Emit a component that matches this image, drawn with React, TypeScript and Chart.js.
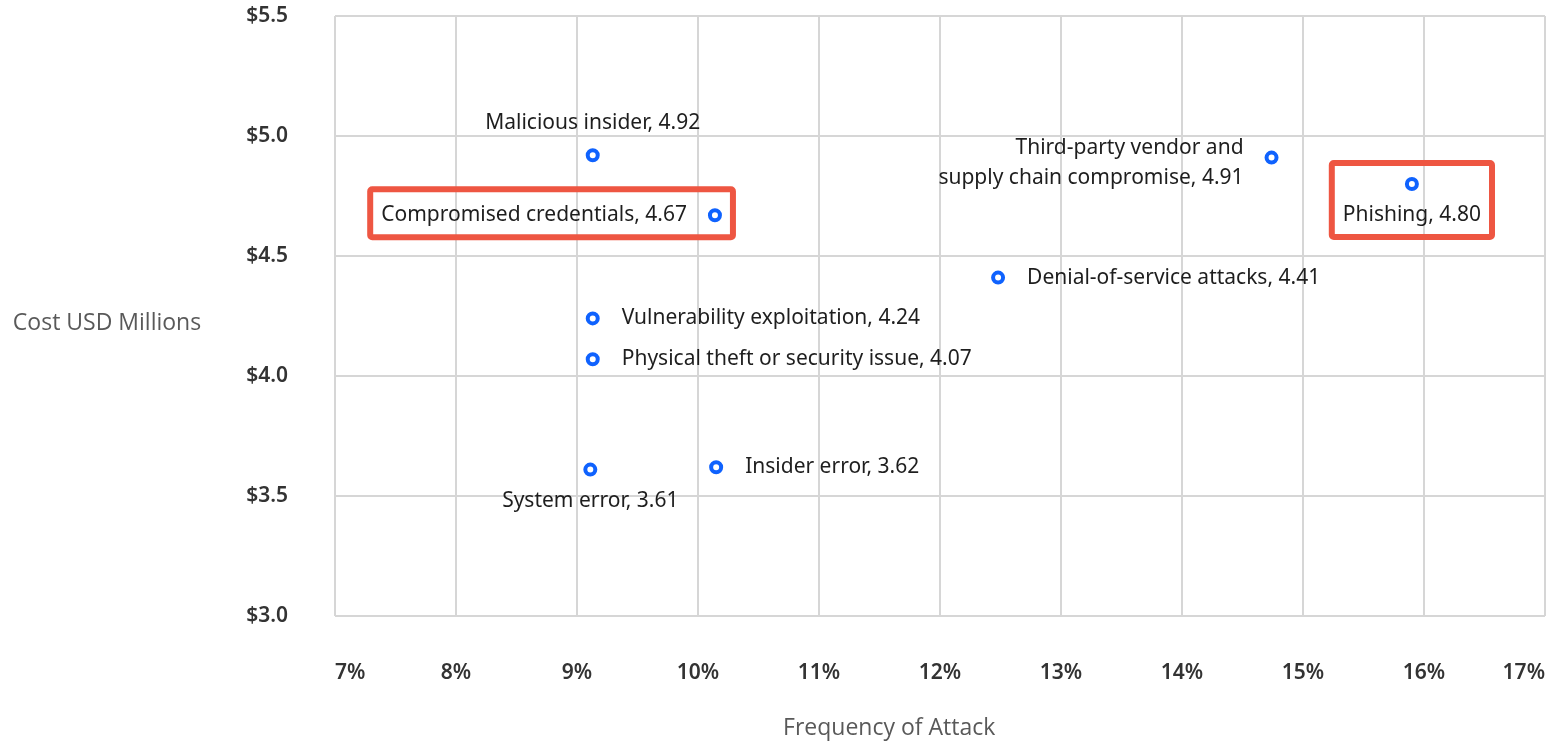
import React, { useEffect, useRef } from "react";
import { Chart, registerables } from "chart.js";

Chart.register(...registerables);

// Attack vectors: frequency (% of breaches) vs. average cost (USD millions)
const attackTypes = [
  "Malicious insider",
  "Compromised credentials",
  "Third-party vendor and\nsupply chain compromise",
  "Phishing",
  "Denial-of-service attacks",
  "Vulnerability exploitation",
  "Physical theft or security issue",
  "System error",
  "Insider error",
];
const frequencyPct = [9.13, 10.14, 14.74, 15.9, 12.48, 9.13, 9.13, 9.11, 10.15];
const costMillions = [4.92, 4.67, 4.91, 4.8, 4.41, 4.24, 4.07, 3.61, 3.62];

const xTickValues = [7, 8, 9, 10, 11, 12, 13, 14, 15, 16, 17];
const yTickValues = [3.0, 3.5, 4.0, 4.5, 5.0, 5.5];

const highlighted = ["Compromised credentials", "Phishing"];

const xTitle = "Frequency of Attack";
const yTitle = "Cost USD Millions";

// where each point's label sits relative to its marker
const labelPlacement = ["above", "left", "left", "below", "right", "right", "right", "below", "right"];

const BLUE = "#0f62fe";
const GRID = "#d6d6d6";
const RED = "#ee5642";
const LABEL_FONT = "21px 'Noto Sans'";
const TITLE_FONT = "23px 'Open Sans'";

// keep edge tick labels from pushing the plot area inwards
const noEdgePadding = (scale: any) => {
  scale.paddingTop = 0;
  scale.paddingBottom = 0;
  scale.paddingLeft = 0;
  scale.paddingRight = 0;
};

const pointLabels = {
  id: "pointLabels",
  afterDatasetsDraw(chart: any) {
    const ctx = chart.ctx as CanvasRenderingContext2D;
    const meta = chart.getDatasetMeta(0);
    ctx.save();
    ctx.font = LABEL_FONT;
    ctx.fillStyle = "#1e1e1e";
    ctx.textBaseline = "middle";
    const lineH = 30;
    meta.data.forEach((el: any, i: number) => {
      const { x, y } = el.getProps(["x", "y"], true);
      const lines = `${attackTypes[i]}, ${costMillions[i].toFixed(2)}`.split("\n");
      const place = labelPlacement[i];
      let tx = x;
      let cy = y;
      if (place === "left") {
        ctx.textAlign = "right";
        tx = x - 28;
      } else if (place === "right") {
        ctx.textAlign = "left";
        tx = x + 29;
      } else {
        ctx.textAlign = "center";
        cy = place === "above" ? y - 32 : y + 31;
      }
      if (lines.length > 1) cy += 5;
      let minX = Infinity, maxX = -Infinity, minY = Infinity, maxY = -Infinity;
      lines.forEach((line, k) => {
        const ly = cy + lineH * (k - (lines.length - 1) / 2);
        ctx.fillText(line, tx, ly);
        const w = ctx.measureText(line).width;
        const left = ctx.textAlign === "right" ? tx - w : ctx.textAlign === "left" ? tx : tx - w / 2;
        minX = Math.min(minX, left);
        maxX = Math.max(maxX, left + w);
        minY = Math.min(minY, ly - 12);
        maxY = Math.max(maxY, ly + 12);
      });
      if (highlighted.includes(attackTypes[i])) {
        minX = Math.min(minX, x - 7);
        maxX = Math.max(maxX, x + 7);
        minY = Math.min(minY, y - 7);
        maxY = Math.max(maxY, y + 7);
        ctx.save();
        ctx.strokeStyle = RED;
        ctx.lineWidth = 6;
        ctx.beginPath();
        ctx.roundRect(minX - 11, minY - 14, maxX - minX + 22, maxY - minY + 24, 2);
        ctx.stroke();
        ctx.restore();
      }
    });
    ctx.restore();
  },
};

const axisTitles = {
  id: "axisTitles",
  afterDraw(chart: any) {
    const ctx = chart.ctx as CanvasRenderingContext2D;
    const area = chart.chartArea;
    ctx.save();
    ctx.font = TITLE_FONT;
    ctx.fillStyle = "#595959";
    ctx.textAlign = "center";
    ctx.textBaseline = "middle";
    ctx.fillText(yTitle, area.left - 228, (area.top + area.bottom) / 2 + 7);
    ctx.fillText(xTitle, area.left + (area.right - area.left) * 0.458, chart.height - 16);
    ctx.restore();
  },
};

export default function App() {
  const canvasRef = useRef<HTMLCanvasElement>(null);

  useEffect(() => {
    if (!canvasRef.current) return;
    const chart = new Chart(canvasRef.current, {
      type: "scatter",
      data: {
        datasets: [
          {
            data: frequencyPct.map((f, i) => ({ x: f, y: costMillions[i] })),
            pointRadius: 5,
            pointHoverRadius: 5,
            borderWidth: 4,
            borderColor: BLUE,
            backgroundColor: "#ffffff",
          },
        ],
      },
      options: {
        animation: false,
        responsive: true,
        maintainAspectRatio: false,
        layout: { padding: { top: 16, right: 7, left: 0, bottom: 0 } },
        plugins: {
          legend: { display: false },
          tooltip: { enabled: false },
        },
        scales: {
          x: {
            type: "linear",
            min: xTickValues[0],
            max: xTickValues[xTickValues.length - 1],
            afterBuildTicks: (scale: any) => {
              scale.ticks = xTickValues.map((v) => ({ value: v }));
            },
            afterFit: (scale: any) => {
              scale.height = 128;
              noEdgePadding(scale);
            },
            grid: { color: GRID, lineWidth: 2, drawTicks: false },
            border: { display: false },
            ticks: {
              align: "inner",
              padding: 44,
              color: "#333333",
              font: { family: "'Noto Sans'", size: 21, weight: 600 },
              callback: (v: any) => `${v}%`,
            },
          },
          y: {
            type: "linear",
            min: yTickValues[0],
            max: yTickValues[yTickValues.length - 1],
            afterBuildTicks: (scale: any) => {
              scale.ticks = yTickValues.map((v) => ({ value: v }));
            },
            afterFit: (scale: any) => {
              scale.width = 335;
              noEdgePadding(scale);
            },
            grid: { color: GRID, lineWidth: 2, drawTicks: false },
            border: { display: false },
            ticks: {
              padding: 47,
              color: "#333333",
              font: { family: "'Noto Sans'", size: 21, weight: 600 },
              callback: (v: any) => `$${Number(v).toFixed(1)}`,
            },
          },
        },
      },
      plugins: [pointLabels, axisTitles],
    });
    return () => chart.destroy();
  }, []);

  return (
    <div style={{ position: "fixed", left: 0, top: 0, width: 1554, height: 744, background: "#ffffff" }}>
      <canvas ref={canvasRef} />
    </div>
  );
}
